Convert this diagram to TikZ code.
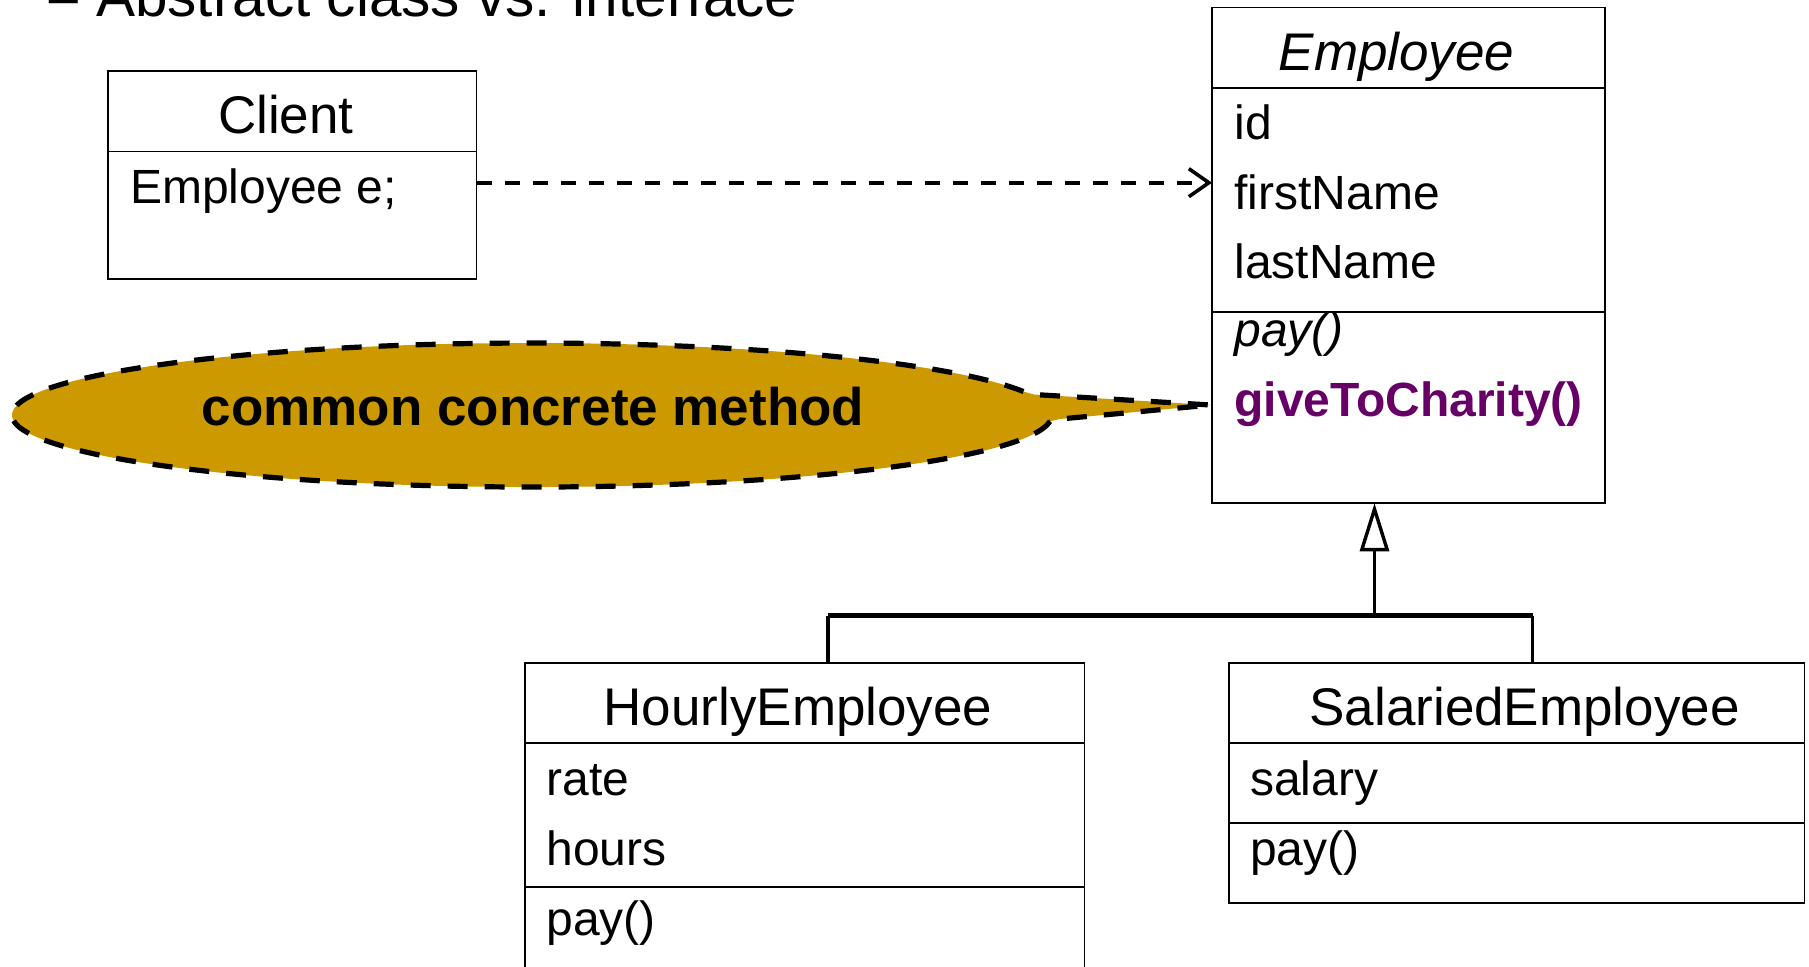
\documentclass[tikz,border=0pt]{standalone}
\usepackage{fontspec}
\setmainfont{Liberation Sans}
\usetikzlibrary{arrows.meta}
\definecolor{calloutgold}{RGB}{204,153,0}
\definecolor{methodpurple}{RGB}{102,0,102}
\begin{document}
\begin{tikzpicture}[x=0.5pt,y=-0.5pt,
  classbox/.style={draw, line width=0.9pt, inner sep=0pt, outer sep=0pt},
  divider/.style={line width=0.9pt},
  classname/.style={font=\fontsize{26.5}{30}\selectfont, anchor=base, inner sep=0pt},
  member/.style={font=\fontsize{24}{28}\selectfont, anchor=base west, inner sep=0pt},
  dependency/.style={line width=2pt, dash pattern=on 7.6pt off 6.4pt,
    -{Straight Barb[length=10pt, width=14pt, line width=1.8pt]}},
  inheritline/.style={line width=1.7pt},
  generalization/.style={line width=1.7pt,
    -{Triangle[open, length=24pt, width=14.5pt, line width=1.7pt]}},
  calloutshape/.style={fill=calloutgold, draw=black, line width=2.6pt,
    dash pattern=on 10pt off 8.5pt},
]
\useasboundingbox (0,0) rectangle (1809,966);
\clip (0,0) rectangle (1809,966);

% slide heading
\node[anchor=base west, inner sep=0pt, font=\fontsize{29.25}{34}\selectfont]
  (heading) at (47,16.7) {{\bfseries –} Abstract class vs. interface};

% Client class
\node[classbox, minimum width=184.1pt, minimum height=104.15pt] (client) at (292.4,175.2) {};
\draw[divider] (client.west |- 0,151.5) -- (client.east |- 0,151.5);
\node[classname] (clientname) at (285.8,133.3) {Client};
\node[member] (clientfield) at (129.7,203.3) {Employee e;};

% abstract Employee class
\node[classbox, minimum width=196.5pt, minimum height=247.9pt] (emp) at (1408.5,255.4) {};
\draw[divider] (emp.west |- 0,87.7) -- (emp.east |- 0,87.7);
\draw[divider] (emp.west |- 0,311.6) -- (emp.east |- 0,311.6);
\node[classname, font=\fontsize{26.5}{30}\selectfont\itshape] (empname) at (1396.6,70) {Employee};
\node[member] (empid) at (1234,139.3) {id};
\node[member] (empfirst) at (1234,209.3) {firstName};
\node[member] (emplast) at (1234,278.3) {lastName};
\node[member, font=\fontsize{24}{28}\selectfont\itshape] (emppay) at (1234,346.7) {pay()};
\node[member, font=\fontsize{24}{28}\selectfont\bfseries, text=methodpurple] (gtc) at (1234,416.7) {giveToCharity()};

% HourlyEmployee class
\node[classbox, minimum width=279.75pt, minimum height=168.65pt] (hourly) at (804.75,831.35) {};
\draw[divider] (hourly.west |- 0,743.3) -- (hourly.east |- 0,743.3);
\draw[divider] (hourly.west |- 0,887.3) -- (hourly.east |- 0,887.3);
\node[classname] (hourlyname) at (798,725.7) {HourlyEmployee};
\node[member] (hourlyrate) at (546,795) {rate};
\node[member] (hourlyhours) at (546,865) {hours};
\node[member] (hourlypay) at (546,935) {pay()};

% SalariedEmployee class
\node[classbox, minimum width=287.85pt, minimum height=120.3pt] (salaried) at (1516.55,783) {};
\draw[divider] (salaried.west |- 0,743.3) -- (salaried.east |- 0,743.3);
\draw[divider] (salaried.west |- 0,823.3) -- (salaried.east |- 0,823.3);
\node[classname] (salariedname) at (1524.6,725.7) {SalariedEmployee};
\node[member] (salariedsalary) at (1249.6,795) {salary};
\node[member] (salariedpay) at (1249.6,865) {pay()};

% dependency of Client on Employee
\draw[dependency] (client.east |- 0,182.7) -- (emp.west |- 0,182.7);

% generalization tree
\coordinate (junction) at (1374.5,615.5);
\coordinate (hourlyjoin) at (828,615.5);
\coordinate (salariedjoin) at (1532.5,615.5);
\draw[line width=2.2pt] (hourlyjoin) -- (salariedjoin);
\draw[inheritline] (hourlyjoin) -- (hourlyjoin |- hourly.north);
\draw[inheritline] (salariedjoin) -- (salariedjoin |- salaried.north);
\draw[generalization] (junction) -- (junction |- emp.south);

% callout pointing at the concrete method
\coordinate (tip) at (1211,405);
\path[calloutshape] (1050,421.3)
  arc[start angle=5, end angle=341, x radius=520, y radius=72]
  -- (1034,394.5) -- (tip) -- (1060,419) -- cycle;
\node[anchor=base, inner sep=0pt, font=\fontsize{26.5}{30}\selectfont\bfseries]
  (callouttext) at (533,425) {common concrete method};
\end{tikzpicture}
\end{document}
